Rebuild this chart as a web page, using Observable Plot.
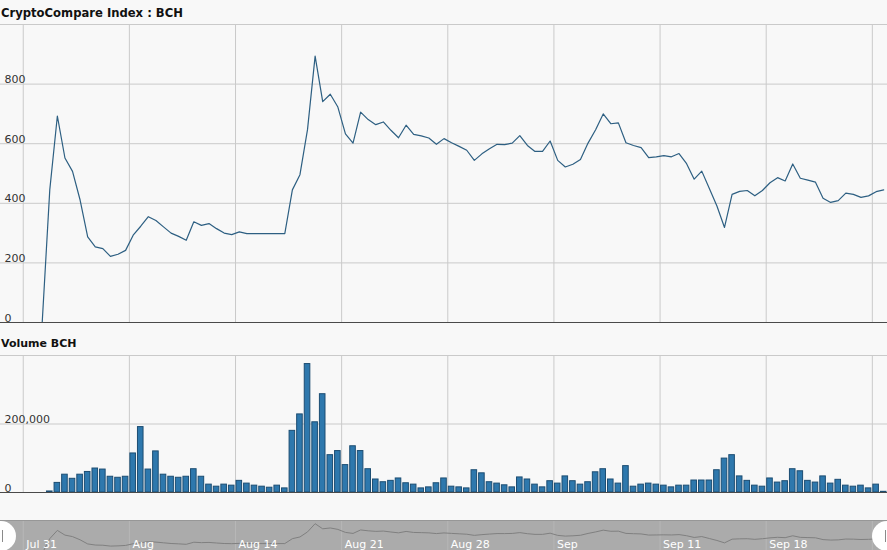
<!DOCTYPE html>
<html>
<head>
<meta charset="utf-8">
<script src="https://cdn.jsdelivr.net/npm/d3@7"></script>
<script src="https://cdn.jsdelivr.net/npm/@observablehq/plot@0.6"></script>
<style>
html, body { margin: 0; padding: 0; background: #f8f8f8; }
#chart { position: relative; width: 887px; height: 550px; overflow: hidden; background: #f8f8f8;
  font-family: "DejaVu Sans", Verdana, sans-serif; }
.title { position: absolute; left: 1px; font-weight: bold; font-size: 11px; line-height: 1; color: #111; white-space: nowrap; }
.panel { position: absolute; left: 0; }
.panel svg { display: block; }
#nav { border-top: 1px solid #979797; background: #ababab; }
.handle { position: absolute; top: 521px; width: 30px; height: 30px; border-radius: 15px; background: #fff; }
.handle .grip { position: absolute; top: 9px; width: 1px; height: 12px; background: #8a8a8a; }
</style>
</head>
<body>
<div id="chart">
  <div class="title" style="top:8px;font-size:11.6px">CryptoCompare Index : BCH</div>
  <div class="title" style="top:338px">Volume BCH</div>
  <div id="price" class="panel" style="top:24px"></div>
  <div id="volume" class="panel" style="top:355px"></div>
  <div id="nav" class="panel" style="top:520px"></div>
  <div class="handle" style="left:-14px"><div class="grip" style="left:16px"></div></div>
  <div class="handle" style="left:872px"><div class="grip" style="left:13px"></div></div>
</div>
<script>
// ---- data (12-hour samples, first sample at firstTime) ----
const firstTime = "2017-07-29T06:00Z";
const stepHours = 12;

const price = [
  0, 0, 0, 0, 0, 0, 0,
  445, 693, 552, 507, 411, 287, 254, 248, 222, 229,
  242, 293, 323, 355, 342, 321, 300, 289, 276, 338,
  326, 332, 315, 300, 295, 304, 298, 298, 298, 298,
  298, 298, 445, 496, 648, 894, 741, 766, 723, 633,
  602, 706, 681, 664, 673, 645, 620, 662, 631, 626,
  619, 598, 617, 603, 591, 578, 544, 566, 583, 598,
  597, 602, 627, 594, 574, 574, 609, 544, 522, 531,
  547, 602, 647, 700, 667, 670, 603, 594, 587, 553,
  556, 560, 556, 567, 533, 481, 508, 450, 391, 319,
  430, 440, 443, 425, 443, 469, 486, 475, 532, 484,
  478, 471, 417, 403, 409, 434, 430, 420, 425, 439,
  445
];

const volume = [
  0, 0, 0, 0, 0, 0, 0,
  3000, 28000, 52000, 40000, 52000, 60000, 70000, 67000, 46000, 43000,
  46000, 114000, 191000, 67000, 120000, 52000, 46000, 43000, 46000, 68000,
  46000, 23000, 17000, 23000, 20000, 34000, 26000, 20000, 17000, 14000,
  20000, 12000, 180000, 228000, 375000, 205000, 287000, 109000, 121000, 80000,
  135000, 121000, 68000, 38000, 30000, 34000, 41000, 27000, 23000, 12000,
  15000, 27000, 41000, 17000, 15000, 12000, 65000, 56000, 30000, 26000,
  21000, 15000, 44000, 38000, 23000, 15000, 33000, 26000, 47000, 33000,
  23000, 30000, 59000, 68000, 38000, 26000, 77000, 17000, 23000, 26000,
  23000, 20000, 15000, 20000, 20000, 35000, 35000, 35000, 65000, 99000,
  109000, 47000, 34000, 20000, 17000, 41000, 29000, 33000, 68000, 62000,
  34000, 29000, 47000, 26000, 37000, 20000, 17000, 20000, 12000, 23000,
  2000
];

// weekly grid lines (the last one has no visible label)
const weekTicks = ["2017-07-31", "2017-08-07", "2017-08-14", "2017-08-21", "2017-08-28",
                   "2017-09-04", "2017-09-11", "2017-09-18", "2017-09-25"];
const tickLabels = ["Jul 31", "Aug", "Aug 14", "Aug 21", "Aug 28", "Sep", "Sep 11", "Sep 18"];

const priceTicks = [0, 200, 400, 600, 800];
const priceGrid = [0, 200, 400, 600, 800, 1000];
const volumeTicks = [0, 200000];
const volumeGrid = [0, 200000, 400000];

const xDomainStart = "2017-07-29T12:00Z";
const xDomainEnd = "2017-09-26T00:00Z";

// ---- build rows ----
const H = 3600 * 1000;
const t0 = new Date(firstTime).getTime();
const rows = price.map((p, i) => ({
  date: new Date(t0 + i * stepHours * H),
  price: p,
  volume: volume[i]
}));
const ticks = weekTicks.map(d => ({date: new Date(d + "T00:00Z")}));
const labelled = tickLabels.map((label, i) => ({date: ticks[i].date, label}));
const xScale = {type: "utc", domain: [new Date(xDomainStart), new Date(xDomainEnd)]};
const W = 887;
const font = "'DejaVu Sans', Verdana, sans-serif";
const gridColor = "#cacaca";
const baseColor = "#4a4a4a";

// ---- price panel ----
const pricePlot = Plot.plot({
  width: W, height: 299,
  marginTop: 0, marginBottom: 1, marginLeft: 0, marginRight: 0,
  style: {background: "transparent", fontFamily: font, fontSize: "11px", color: "#333", overflow: "visible"},
  x: {...xScale, axis: null},
  y: {domain: [0, 1000], axis: null},
  marks: [
    Plot.ruleX(ticks, {x: "date", stroke: gridColor}),
    Plot.ruleY(priceGrid, {stroke: gridColor}),
    Plot.ruleY([0], {stroke: baseColor}),
    Plot.lineY(rows, {x: "date", y: "price", stroke: "#2d5f82", strokeWidth: 1.2, clip: true}),
    Plot.text(priceTicks, {y: d => d, text: d => String(d), frameAnchor: "left", textAnchor: "start",
      lineAnchor: "bottom", dx: 4, dy: -1, fill: "#333"})
  ]
});
document.getElementById("price").appendChild(pricePlot);

// ---- volume panel ----
const volFmt = d3.format(",");
const volumePlot = Plot.plot({
  width: W, height: 138,
  marginTop: 0, marginBottom: 1, marginLeft: 0, marginRight: 0,
  style: {background: "transparent", fontFamily: font, fontSize: "11px", color: "#333", overflow: "visible"},
  x: {...xScale, axis: null},
  y: {domain: [0, 400000], axis: null},
  marks: [
    Plot.ruleX(ticks, {x: "date", stroke: gridColor}),
    Plot.ruleY(volumeGrid, {stroke: gridColor}),
    Plot.rectY(rows, {
      x1: d => new Date(d.date.getTime() - 6 * H),
      x2: d => new Date(d.date.getTime() + 6 * H),
      y: "volume", insetLeft: 1, insetRight: 1,
      fill: "#2e78ad", stroke: "#1c4d72", strokeWidth: 1, clip: true
    }),
    Plot.ruleY([0], {stroke: baseColor}),
    Plot.text(volumeTicks, {y: d => d, text: d => volFmt(d), frameAnchor: "left", textAnchor: "start",
      lineAnchor: "bottom", dx: 4, dy: -1, fill: "#333"})
  ]
});
document.getElementById("volume").appendChild(volumePlot);

// ---- navigator ----
const navPlot = Plot.plot({
  width: W, height: 29,
  marginTop: 0, marginBottom: 0, marginLeft: 0, marginRight: 0,
  style: {background: "transparent", fontFamily: font, fontSize: "11px", color: "#fff", overflow: "hidden"},
  x: {...xScale, axis: null},
  y: {domain: [0, 900], range: [32, 2], axis: null},
  marks: [
    Plot.ruleX(ticks, {x: "date", stroke: "#b7b7b7"}),
    Plot.lineY(rows, {x: "date", y: "price", stroke: "#808080", strokeWidth: 1, clip: true}),
    Plot.text(labelled, {x: "date", text: "label", frameAnchor: "bottom", textAnchor: "start",
      lineAnchor: "bottom", dx: 3, dy: -3, fill: "#fff"})
  ]
});
document.getElementById("nav").appendChild(navPlot);
</script>
</body>
</html>
